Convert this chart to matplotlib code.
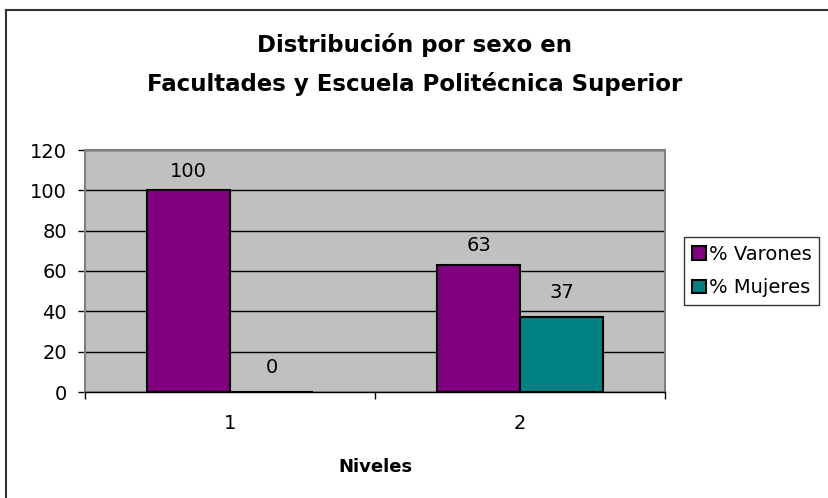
import matplotlib
matplotlib.use("Agg")
import numpy as np
import matplotlib.pyplot as plt
from matplotlib.lines import Line2D

plt.rcParams['font.family'] = ['DejaVu Sans']

niveles = ["1", "2"]
varones = [100, 63]
mujeres = [0, 37]
series_names = ["% Varones", "% Mujeres"]
title = "Distribución por sexo en\nFacultades y Escuela Politécnica Superior"

fig = plt.figure(figsize=(8.29, 4.98), dpi=100)
ax = fig.add_axes([85 / 829, 1 - 392 / 498, 580 / 829, 242 / 498])
ax.set_facecolor("#C0C0C0")

x = np.arange(1, len(niveles) + 1)
w = 0.286
b1 = ax.bar(x - w / 2, varones, w, color="#800080", edgecolor="black", linewidth=1.5, zorder=3)
b2 = ax.bar(x + w / 2, mujeres, w, color="#008080", edgecolor="black", linewidth=1.5, zorder=3)
ax.bar_label(b1, labels=[str(v) for v in varones], padding=7, fontsize=14)
ax.bar_label(b2, labels=[str(v) for v in mujeres], padding=11, fontsize=14)

ax.set_xlim(0.5, len(niveles) + 0.5)
ax.set_ylim(0, 120)
ax.set_yticks(range(0, 121, 20))
ax.yaxis.grid(True, color="black", linewidth=1.0, zorder=1)
ax.set_axisbelow(True)

ax.set_xticks(x)
ax.set_xticklabels(niveles, fontsize=14)
ax.set_xticks(np.arange(0.5, len(niveles) + 1, 1.0), minor=True)
ax.tick_params(axis="x", which="major", length=0, pad=16)
ax.tick_params(axis="x", which="minor", length=5, width=1, direction="out", color="black")
ax.tick_params(axis="y", length=5, width=1, direction="out", labelsize=14, pad=8)

for s in ["top", "right", "left"]:
    ax.spines[s].set_color("#808080")
    ax.spines[s].set_linewidth(1.5)
ax.spines["bottom"].set_color("black")
ax.spines["bottom"].set_linewidth(1.0)

ax.set_xlabel("Niveles", fontsize=13, fontweight="bold", labelpad=18)

fig.text(415 / 829, 1 - 64.5 / 498, title, ha="center", va="center",
         fontsize=16.5, fontweight="bold", linespacing=1.75)

handles = [plt.Rectangle((0, 0), 1, 1, facecolor="#800080", edgecolor="black", linewidth=1.5),
           plt.Rectangle((0, 0), 1, 1, facecolor="#008080", edgecolor="black", linewidth=1.5)]
leg = fig.legend(handles, series_names, loc="upper left",
                 bbox_to_anchor=(684 / 829, 1 - 237 / 498), fontsize=14,
                 frameon=True, fancybox=False, handlelength=0.75, handleheight=0.7,
                 handletextpad=0.12, borderpad=0.4, labelspacing=0.75,
                 borderaxespad=0)
leg.get_frame().set_edgecolor("black")
leg.get_frame().set_linewidth(1.0)

# outer frame (only left and top visible in the original)
fig.add_artist(Line2D([6 / 829, 6 / 829], [0, 1 - 10 / 498], color="#333333", linewidth=1.5,
                      transform=fig.transFigure))
fig.add_artist(Line2D([6 / 829, 1], [1 - 10 / 498, 1 - 10 / 498], color="#333333", linewidth=1.5,
                      transform=fig.transFigure))

fig.savefig("out.png", dpi=100)
